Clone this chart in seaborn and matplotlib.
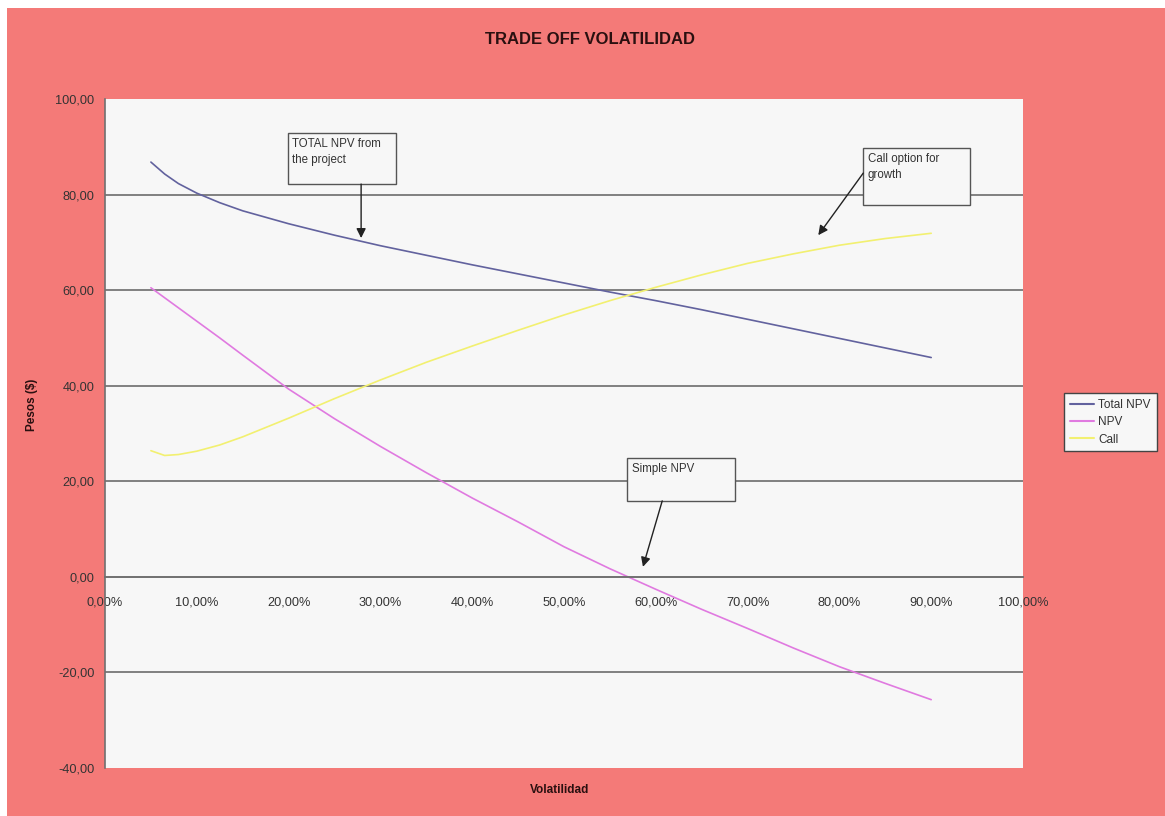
import matplotlib
matplotlib.use("Agg")
import matplotlib.pyplot as plt
import matplotlib.ticker as mticker
from matplotlib.patches import Rectangle
import seaborn as sns
import pandas as pd

# ---- data ----
volatility = [0.05, 0.065, 0.08, 0.10, 0.125, 0.15, 0.20, 0.25, 0.30, 0.35, 0.40,
              0.45, 0.50, 0.55, 0.60, 0.65, 0.70, 0.75, 0.80, 0.85, 0.90]
total_npv = [86.8, 84.3, 82.3, 80.3, 78.3, 76.6, 73.9, 71.5, 69.3, 67.3, 65.3,
             63.4, 61.5, 59.6, 57.8, 55.9, 53.9, 51.9, 49.9, 47.9, 45.9]
npv = [60.5, 58.4, 56.3, 53.5, 50.0, 46.4, 39.3, 33.1, 27.3, 21.8, 16.5,
       11.5, 6.3, 1.7, -2.6, -6.8, -10.8, -14.9, -18.8, -22.3, -25.7]
call = [26.4, 25.4, 25.6, 26.3, 27.6, 29.3, 33.2, 37.3, 41.2, 44.9, 48.3,
        51.6, 54.8, 57.8, 60.6, 63.2, 65.6, 67.6, 69.4, 70.8, 71.9]
series_names = ["Total NPV", "NPV", "Call"]
series_colors = ["#62629e", "#e07ae0", "#f2f070"]
title = "TRADE OFF VOLATILIDAD"
x_label = "Volatilidad"
y_label = "Pesos ($)"

df = pd.DataFrame({
    "Volatilidad": volatility * 3,
    "Pesos": total_npv + npv + call,
    "Serie": [series_names[0]] * len(volatility) + [series_names[1]] * len(volatility)
             + [series_names[2]] * len(volatility),
})

sns.set_style("white")
plt.rcParams["font.family"] = ["Liberation Sans", "DejaVu Sans"]

W, H = 1165, 816
fig = plt.figure(figsize=(W / 100, H / 100), dpi=100, facecolor="white")
# salmon chart area
fig.patches.append(Rectangle((7 / W, 0), 1 - 7 / W, 1 - 8 / H, transform=fig.transFigure,
                             facecolor="#f47a78", edgecolor="none", zorder=-10))

ax = fig.add_axes([105 / W, (H - 768) / H, (1023 - 105) / W, (768 - 99) / H])
ax.set_zorder(1)
ax.set_facecolor("#f7f7f7")

sns.lineplot(data=df, x="Volatilidad", y="Pesos", hue="Serie", hue_order=series_names,
             palette=series_colors, linewidth=1.2, ax=ax, legend=True, sort=False)

ax.set_xlim(0, 1.0)
ax.set_ylim(-40, 100)
ax.set_xticks([i / 10 for i in range(11)])
ax.set_yticks(list(range(-40, 101, 20)))
ax.xaxis.set_major_formatter(mticker.FuncFormatter(lambda v, p: f"{v*100:.2f}%".replace(".", ",")))
ax.yaxis.set_major_formatter(mticker.FuncFormatter(lambda v, p: f"{v:.2f}".replace(".", ",")))

for yv in [80, 60, 40, 20, -20]:
    ax.axhline(yv, color="#808080", linewidth=1.4, zorder=1)

for s in ["top", "right"]:
    ax.spines[s].set_visible(False)
ax.spines["left"].set_color("#707070")
ax.spines["left"].set_linewidth(1.2)
ax.spines["bottom"].set_position(("data", 0))
ax.spines["bottom"].set_color("#707070")
ax.spines["bottom"].set_linewidth(1.4)
ax.tick_params(axis="both", direction="out", length=4, width=1, color="#707070",
               labelsize=9.2, labelcolor="#333333")
ax.tick_params(axis="x", pad=10)
ax.set_xlabel("")
ax.set_ylabel("")

fig.text(590 / W, 1 - 40 / H, title, ha="center", va="center", fontsize=12,
         fontweight="bold", color="#2a1010")
fig.text(560 / W, 1 - 790 / H, x_label, ha="center", va="center", fontsize=8.5,
         fontweight="bold", color="#2a1010")
fig.text(32 / W, 1 - 405 / H, y_label, ha="center", va="center", fontsize=8.5,
         fontweight="bold", color="#2a1010", rotation=90)

# annotation boxes (positions in data coords)
def box(x0, x1, y0, y1, text):
    ax.add_patch(Rectangle((x0, y0), x1 - x0, y1 - y0, facecolor="#f7f7f7",
                           edgecolor="#555555", linewidth=1.0, zorder=5))
    ax.text(x0 + 0.005, y1 - 1.0, text, ha="left", va="top", fontsize=8.3,
            color="#333333", zorder=6, linespacing=1.5)

def arrow(x0, y0, x1, y1):
    ax.annotate("", xy=(x1, y1), xytext=(x0, y0), zorder=6,
                arrowprops=dict(arrowstyle="-|>", color="#222222", lw=1.0,
                                mutation_scale=14, shrinkA=0, shrinkB=0))

box(0.199, 0.317, 82.2, 92.9, "TOTAL NPV from\nthe project")
arrow(0.279, 82.2, 0.279, 70.9)
box(0.826, 0.942, 77.8, 89.7, "Call option for\ngrowth")
arrow(0.826, 84.5, 0.777, 71.5)
box(0.569, 0.686, 15.9, 24.9, "Simple NPV")
arrow(0.607, 15.9, 0.586, 2.1)

leg = ax.legend(loc="upper left", bbox_to_anchor=(1064 / W, 1 - 393 / H),
                bbox_transform=fig.transFigure, borderaxespad=0, frameon=True,
                fontsize=8.5, handlelength=2.0, handletextpad=0.4,
                labelspacing=0.45, borderpad=0.5, fancybox=False)
leg.get_frame().set_facecolor("#f7f7f7")
leg.get_frame().set_edgecolor("#444444")
leg.get_frame().set_linewidth(1.0)
leg.get_frame().set_alpha(1)
for line in leg.get_lines():
    line.set_linewidth(1.5)
for t in leg.get_texts():
    t.set_color("#333333")

fig.savefig("out.png", dpi=100, facecolor=fig.get_facecolor())
